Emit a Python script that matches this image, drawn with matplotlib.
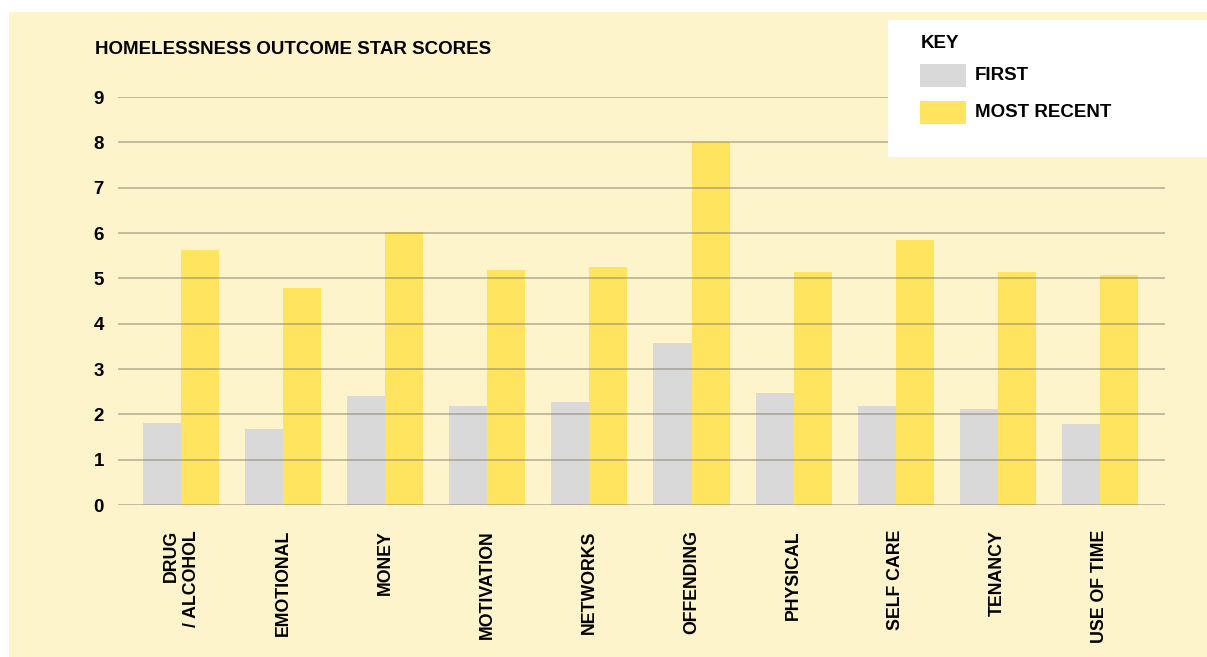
import numpy as np
import matplotlib
matplotlib.use("Agg")
import matplotlib.pyplot as plt
from matplotlib.patches import Rectangle

plt.rcParams.update({
    "font.family": ["Liberation Sans", "DejaVu Sans"],
    "font.weight": "bold",
})

# ---- data ----
categories = ["DRUG\n/ ALCOHOL", "EMOTIONAL", "MONEY", "MOTIVATION", "NETWORKS",
              "OFFENDING", "PHYSICAL", "SELF CARE", "TENANCY", "USE OF TIME"]
first = [1.8, 1.68, 2.41, 2.19, 2.28, 3.58, 2.48, 2.19, 2.12, 1.79]
most_recent = [5.63, 4.79, 6.03, 5.19, 5.25, 8.0, 5.14, 5.85, 5.14, 5.08]
yticks = list(range(0, 10))

CREAM = "#fdf4cc"
GREY = "#d9d9d9"
YELLOW = "#ffe460"
GRID = "#8c846c"
FS = 13.5

W, H = 1207, 657
fig = plt.figure(figsize=(W / 100, H / 100), dpi=100, facecolor="white")

# cream panel behind everything
fig.patches.append(Rectangle((9 / W, 0), 1 - 9 / W, 1 - 12 / H, transform=fig.transFigure,
                             facecolor=CREAM, edgecolor="none", zorder=-1))

ax = fig.add_axes([118 / W, 1 - 505 / H, (1165 - 118) / W, (505 - 97) / H])
ax.set_zorder(1)
ax.set_facecolor("none")

x = np.arange(len(categories))
w = 0.3725
ax.bar(x - w / 2, first, w, color=GREY, zorder=2)
ax.bar(x + w / 2, most_recent, w, color=YELLOW, zorder=2)
for t in yticks:
    ax.axhline(t, color=GRID, lw=1.3, alpha=0.55, zorder=3)

ax.set_xlim(-0.62, len(categories) - 1 + 0.64)
ax.set_ylim(0, 9)
for s in ax.spines.values():
    s.set_visible(False)
ax.set_yticks(yticks)
ax.set_yticklabels([str(t) for t in yticks], fontsize=FS, fontweight="bold")
ax.tick_params(axis="y", length=0, pad=10)
ax.set_xticks(x)
ax.set_xticklabels(categories, rotation=90, fontsize=12.8, fontweight="bold",
                   va="top", ha="center", multialignment="right")
ax.tick_params(axis="x", length=0, pad=18)

fig.text(95 / W, 1 - 49 / H, "HOMELESSNESS OUTCOME STAR SCORES", fontsize=FS,
         fontweight="bold", va="center", ha="left")

# key box
fig.patches.append(Rectangle((888 / W, 1 - 157 / H), (W - 888) / W, 137 / H,
                             transform=fig.transFigure, facecolor="white",
                             edgecolor="none", zorder=5))
fig.text(921 / W, 1 - 43.5 / H, "KEY", fontsize=FS, fontweight="bold",
         va="center", ha="left", zorder=6)
for (y0, col, lab) in [(64, GREY, "FIRST"), (101, YELLOW, "MOST RECENT")]:
    fig.patches.append(Rectangle((920 / W, 1 - (y0 + 23) / H), 46 / W, 23 / H,
                                 transform=fig.transFigure, facecolor=col,
                                 edgecolor="none", zorder=6))
    fig.text(975 / W, 1 - (y0 + 11.5) / H, lab, fontsize=FS, fontweight="bold",
             va="center", ha="left", zorder=6)

fig.savefig("out.png", dpi=100, facecolor="white")
